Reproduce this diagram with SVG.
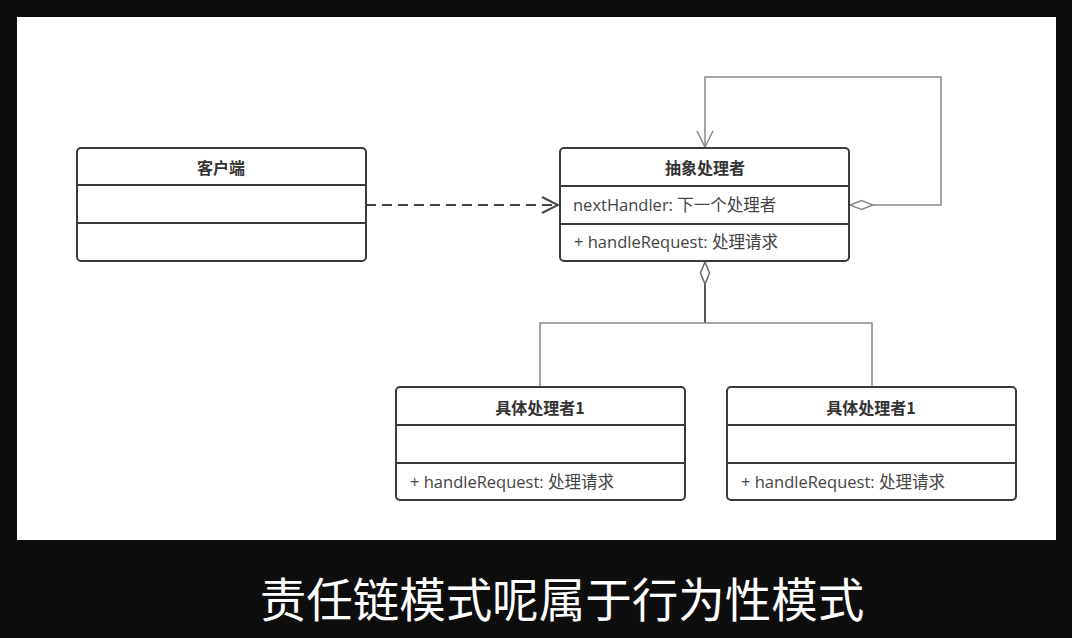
<svg xmlns="http://www.w3.org/2000/svg" width="1072" height="638" viewBox="0 0 1072 638">
<style>
.box{fill:#fff;stroke:#3a3a3a;stroke-width:2}
.div{stroke:#3a3a3a;stroke-width:2}
.title{font-family:"Noto Sans CJK SC","Noto Sans",sans-serif;font-size:16px;font-weight:bold;fill:#333;text-anchor:middle}
.attr{font-family:"Open Sans","Noto Sans CJK SC",sans-serif;font-size:16.5px;fill:#444}
.conn{fill:none;stroke:#888;stroke-width:1.5}
.sub{font-family:"Noto Sans CJK SC",sans-serif;font-size:46.5px;fill:#fff;text-anchor:middle}
</style>
<defs>
<marker id="open" markerWidth="20" markerHeight="20" refX="18" refY="10" orient="auto" markerUnits="userSpaceOnUse">
<path d="M2,2 L18,10 L2,18" fill="none" stroke="#444" stroke-width="2"/>
</marker>
<marker id="openg" markerWidth="20" markerHeight="20" refX="18" refY="10" orient="auto" markerUnits="userSpaceOnUse">
<path d="M2,2 L18,10 L2,18" fill="none" stroke="#888" stroke-width="1.5"/>
</marker>
</defs>
<rect x="0" y="0" width="1072" height="638" fill="#0d0d0d"/>
<rect x="17" y="17" width="1039" height="523" fill="#fff"/>
<g id="connectors">
<path d="M366,205 L558,205" fill="none" stroke="#444" stroke-width="2" stroke-dasharray="10,6" marker-end="url(#open)"/>
<path class="conn" d="M873,205 L941,205 L941,77 L705,77 L705,147" marker-end="url(#openg)"/>
<path d="M850,205 L861.5,200.5 L873,205 L861.5,209.5 Z" fill="#fff" stroke="#888" stroke-width="1.5"/>
<path d="M705,284 L705,323" stroke="#555" stroke-width="2" fill="none"/>
<path class="conn" d="M540,387 L540,323 L872,323 L872,387"/>
<path d="M705,262 L709.5,273 L705,284 L700.5,273 Z" fill="#fff" stroke="#666" stroke-width="1.5"/>
</g>
<g id="client">
<rect class="box" x="77" y="148" width="289" height="113" rx="4"/>
<line class="div" x1="77" y1="185" x2="366" y2="185"/>
<line class="div" x1="77" y1="223" x2="366" y2="223"/>
<text class="title" x="221" y="174">客户端</text>
</g>
<g id="abstract-handler">
<rect class="box" x="560" y="148" width="289" height="113" rx="4"/>
<line class="div" x1="560" y1="186" x2="849" y2="186"/>
<line class="div" x1="560" y1="224" x2="849" y2="224"/>
<text class="title" x="705" y="174">抽象处理者</text>
<text class="attr" x="573" y="211">nextHandler: 下一个处理者</text>
<text class="attr" x="574" y="248">+ handleRequest: 处理请求</text>
</g>
<g id="concrete-handler-a">
<rect class="box" x="396" y="387" width="289" height="113" rx="4"/>
<line class="div" x1="396" y1="425" x2="685" y2="425"/>
<line class="div" x1="396" y1="463" x2="685" y2="463"/>
<text class="title" x="540" y="414">具体处理者1</text>
<text class="attr" x="410" y="488">+ handleRequest: 处理请求</text>
</g>
<g id="concrete-handler-b">
<rect class="box" x="727" y="387" width="289" height="113" rx="4"/>
<line class="div" x1="727" y1="425" x2="1016" y2="425"/>
<line class="div" x1="727" y1="463" x2="1016" y2="463"/>
<text class="title" x="871" y="414">具体处理者1</text>
<text class="attr" x="741" y="488">+ handleRequest: 处理请求</text>
</g>
<text class="sub" x="562" y="617">责任链模式呢属于行为性模式</text>
</svg>
